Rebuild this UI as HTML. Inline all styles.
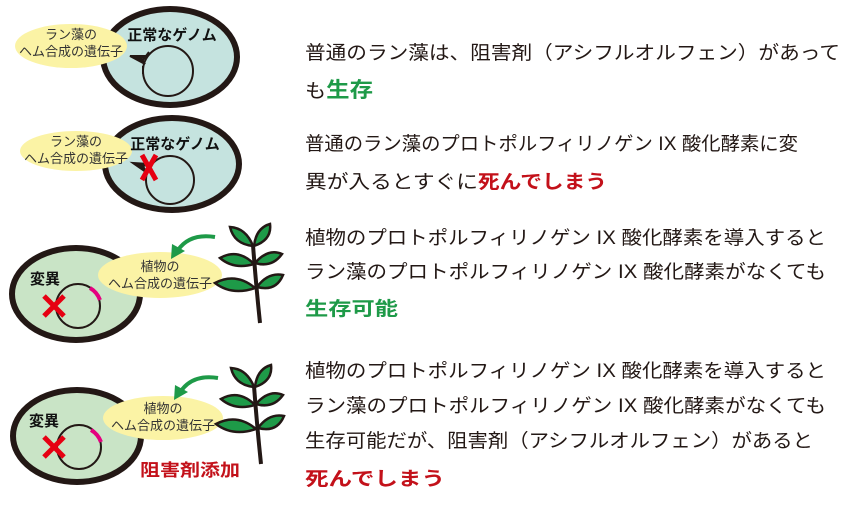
<!DOCTYPE html>
<html><head><meta charset="utf-8"><style>
body{margin:0;background:#fff}
svg{display:block}
text{font-family:"Liberation Sans","Noto Sans CJK JP",sans-serif}
</style></head><body>
<svg width="850" height="505" viewBox="0 0 850 505" xmlns="http://www.w3.org/2000/svg">
<defs>
<g id="plant">
<path d="M253,245 Q256,285 260,323" stroke="#231815" stroke-width="4" fill="none"/>
<g fill="#1e9a48" stroke="#231815" stroke-width="2.5">
<path d="M253,246 Q246,228 230,227 Q234,244 253,246Z"/>
<path d="M254,246 Q256,228 270,224 Q272,240 254,246Z"/>
<path d="M254,264 Q238,248 220,258 Q234,270 254,264Z"/>
<path d="M255,263 Q268,248 282,254 Q272,268 255,263Z"/>
<path d="M255,288 Q236,272 215,283 Q232,296 255,288Z"/>
<path d="M257,287 Q268,272 283,275 Q276,292 257,287Z"/>
</g>
</g>
<g id="arrow">
<path d="M215,237 Q190,233 178,250" stroke="#1e9a48" stroke-width="4" fill="none"/>
<path d="M171,259 L172,244 L185,251Z" fill="#1e9a48"/>
</g>
</defs>

<!-- cell 1 -->
<ellipse cx="170" cy="57" rx="67" ry="48" fill="#c5e3df" stroke="#231815" stroke-width="6"/>
<circle cx="168" cy="71" r="25" fill="none" stroke="#231815" stroke-width="2"/>
<ellipse cx="71" cy="46" rx="56" ry="22" fill="#fbf3a5"/>
<path d="M130,56 L145,64 L141,58 L147,56Z" fill="#231815" stroke="#231815" stroke-width="2"/>
<path d="M143,60 L149,52 M143,66 L143,74" stroke="#231815" stroke-width="2"/>
<text x="71" y="39" font-size="13" text-anchor="middle" fill="#333">ラン藻の</text>
<text x="71" y="56" font-size="13" text-anchor="middle" fill="#333">ヘム合成の遺伝子</text>
<text x="172" y="40" font-size="15" font-weight="bold" text-anchor="middle" fill="#111">正常なゲノム</text>

<!-- cell 2 -->
<ellipse cx="172" cy="164" rx="67" ry="46" fill="#c5e3df" stroke="#231815" stroke-width="6"/>
<circle cx="170" cy="180" r="24" fill="none" stroke="#231815" stroke-width="2"/>
<ellipse cx="76" cy="151" rx="56" ry="20" fill="#fbf3a5"/>
<path d="M133,163 L146,172 L143,166 L149,164Z" fill="#231815" stroke="#231815" stroke-width="2"/>
<text x="76" y="146" font-size="13" text-anchor="middle" fill="#333">ラン藻の</text>
<text x="76" y="163" font-size="13" text-anchor="middle" fill="#333">ヘム合成の遺伝子</text>
<text x="175" y="149" font-size="15" font-weight="bold" text-anchor="middle" fill="#111">正常なゲノム</text>
<path d="M142,155 L156,180 M156,155 L142,180" stroke="#e60012" stroke-width="5"/>

<!-- cell 3 -->
<ellipse cx="76" cy="294" rx="64" ry="46" fill="#c9e4c6" stroke="#231815" stroke-width="6"/>
<circle cx="78" cy="306" r="22" fill="none" stroke="#231815" stroke-width="2"/>
<path d="M90,288 Q97,292 100,300" stroke="#e4007f" stroke-width="4" fill="none"/>
<ellipse cx="160" cy="275" rx="62" ry="23" fill="#fbf3a5"/>
<text x="160" y="271" font-size="13" text-anchor="middle" fill="#333">植物の</text>
<text x="160" y="288" font-size="13" text-anchor="middle" fill="#333">ヘム合成の遺伝子</text>
<text x="45" y="284" font-size="15" font-weight="bold" text-anchor="middle" fill="#111">変異</text>
<path d="M44,296 L64,316 M64,296 L44,316" stroke="#e60012" stroke-width="5"/>
<use href="#plant"/>
<use href="#arrow"/>

<!-- cell 4 -->
<ellipse cx="77" cy="436" rx="64" ry="46" fill="#c9e4c6" stroke="#231815" stroke-width="6"/>
<circle cx="79" cy="447" r="22" fill="none" stroke="#231815" stroke-width="2"/>
<path d="M91,430 Q98,434 101,442" stroke="#e4007f" stroke-width="4" fill="none"/>
<ellipse cx="163" cy="418" rx="60" ry="22" fill="#fbf3a5"/>
<text x="163" y="413" font-size="13" text-anchor="middle" fill="#333">植物の</text>
<text x="163" y="430" font-size="13" text-anchor="middle" fill="#333">ヘム合成の遺伝子</text>
<text x="44" y="426" font-size="15" font-weight="bold" text-anchor="middle" fill="#111">変異</text>
<path d="M44,437 L64,457 M64,437 L44,457" stroke="#e60012" stroke-width="5"/>
<use href="#plant" transform="translate(1,141)"/>
<use href="#arrow" transform="translate(3,141)"/>
<text x="140" y="476" font-size="17" font-weight="bold" fill="#c3111a" textLength="100" lengthAdjust="spacingAndGlyphs">阻害剤添加</text>

<!-- right text -->
<g font-size="19" fill="#231815">
<text x="305" y="59" textLength="535" lengthAdjust="spacingAndGlyphs">普通のラン藻は、阻害剤（アシフルオルフェン）があって</text>
<text x="305" y="97" textLength="68" lengthAdjust="spacingAndGlyphs">も<tspan font-weight="bold" fill="#1e9a48" font-size="21">生存</tspan></text>
<text x="305" y="150" textLength="493" lengthAdjust="spacingAndGlyphs">普通のラン藻のプロトポルフィリノゲン IX 酸化酵素に変</text>
<text x="305" y="188" textLength="302" lengthAdjust="spacingAndGlyphs">異が入るとすぐに<tspan font-weight="bold" fill="#c3111a">死んでしまう</tspan></text>
<text x="305" y="244" textLength="521" lengthAdjust="spacingAndGlyphs">植物のプロトポルフィリノゲン IX 酸化酵素を導入すると</text>
<text x="305" y="278" textLength="521" lengthAdjust="spacingAndGlyphs">ラン藻のプロトポルフィリノゲン IX 酸化酵素がなくても</text>
<text x="305" y="315" font-weight="bold" fill="#1e9a48" textLength="93" lengthAdjust="spacingAndGlyphs">生存可能</text>
<text x="305" y="377" textLength="521" lengthAdjust="spacingAndGlyphs">植物のプロトポルフィリノゲン IX 酸化酵素を導入すると</text>
<text x="305" y="412" textLength="521" lengthAdjust="spacingAndGlyphs">ラン藻のプロトポルフィリノゲン IX 酸化酵素がなくても</text>
<text x="305" y="447" textLength="508" lengthAdjust="spacingAndGlyphs">生存可能だが、阻害剤（アシフルオルフェン）があると</text>
<text x="305" y="485" font-weight="bold" fill="#c3111a" textLength="140" lengthAdjust="spacingAndGlyphs">死んでしまう</text>
</g>
</svg>
</body></html>
